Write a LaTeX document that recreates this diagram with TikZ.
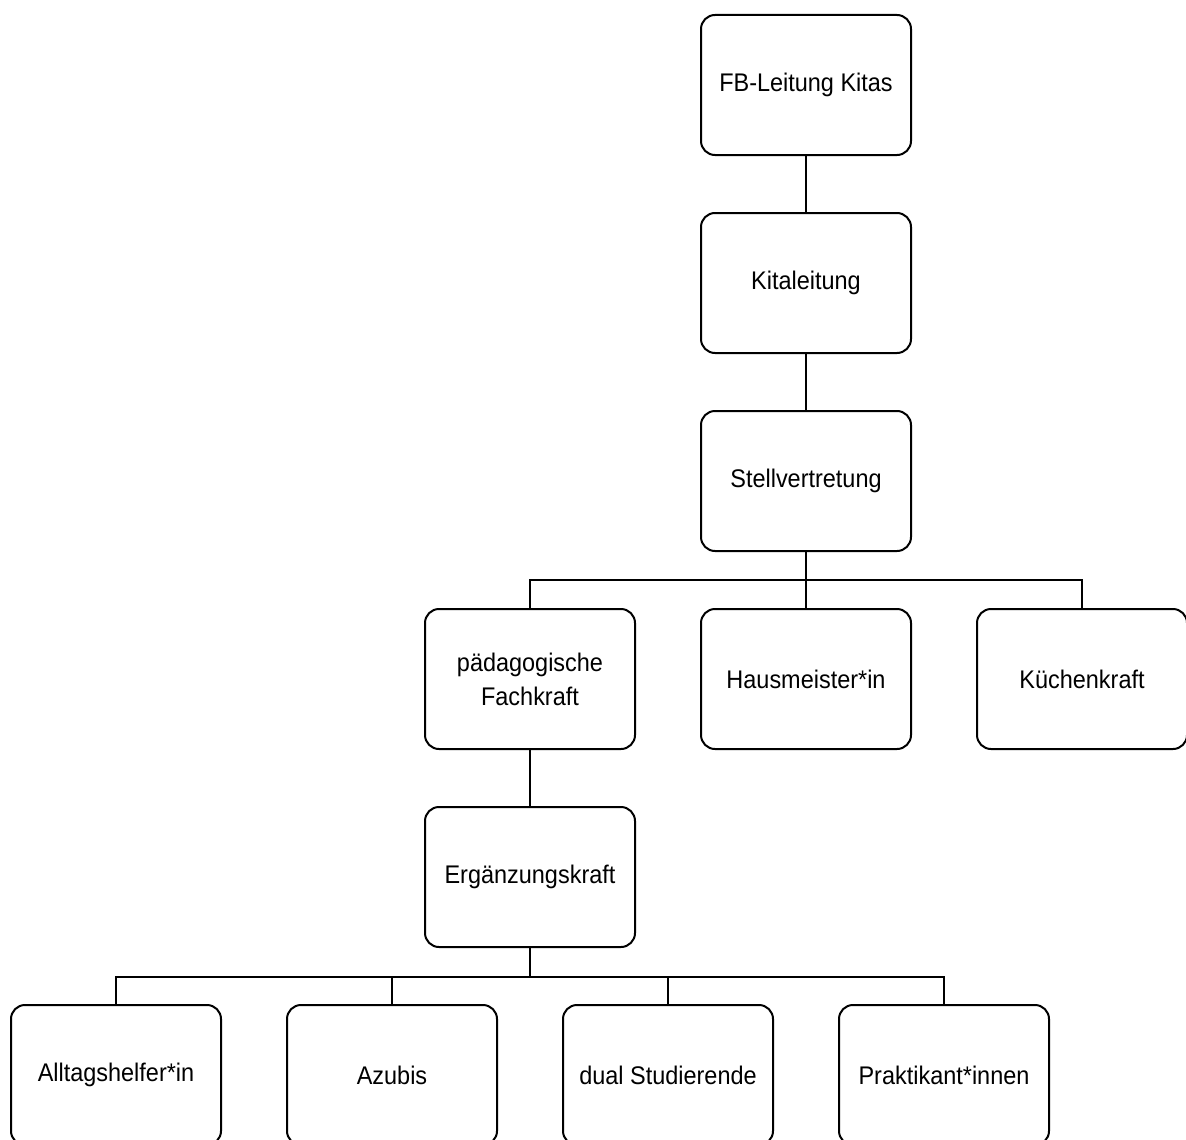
\documentclass[tikz,border=0pt]{standalone}
\usepackage{fontspec}
\setmainfont[FakeStretch=0.92]{Liberation Sans}
\begin{document}
\begin{tikzpicture}[x=1pt,y=-1pt,
  orgbox/.style={draw=black,line width=2pt,rounded corners=14pt,minimum width=210pt,minimum height=140pt,inner sep=0pt,align=center,font=\fontsize{25.5}{34}\selectfont},
  conn/.style={draw=black,line width=2pt}]
\useasboundingbox (0,0) rectangle (1186,1140);
\clip (0,0) rectangle (1186,1140);
\fill[white] (0,0) rectangle (1186,1140);
\node[orgbox] (fb) at (806,85) {FB-Leitung Kitas};
\node[orgbox] (kl) at (806,283) {Kitaleitung};
\node[orgbox] (st) at (806,481) {Stellvertretung};
\node[orgbox] (pf) at (530,679) {pädagogische\\Fachkraft};
\node[orgbox] (hm) at (806,679) {Hausmeister*in};
\node[orgbox] (kk) at (1082,679) {Küchenkraft};
\node[orgbox] (ek) at (530,877) {Ergänzungskraft};
\node[orgbox] (ah) at (116,1075) {Alltagshelfer*in};
\node[orgbox] (az) at (392,1075) {Azubis};
\node[orgbox] (ds) at (668,1075) {dual Studierende};
\node[orgbox] (pk) at (944,1075) {Praktikant*innen};
\coordinate (bus1) at (806,580);
\coordinate (bus2) at (530,977);
\draw[conn] (fb.south) -- (kl.north);
\draw[conn] (kl.south) -- (st.north);
\draw[conn] (st.south) -- (bus1) -| (pf.north);
\draw[conn] (bus1) -| (kk.north);
\draw[conn] (bus1) -- (hm.north);
\draw[conn] (pf.south) -- (ek.north);
\draw[conn] (ek.south) -- (bus2) -| (ah.north);
\draw[conn] (bus2) -| (az.north);
\draw[conn] (bus2) -| (ds.north);
\draw[conn] (bus2) -| (pk.north);
\end{tikzpicture}
\end{document}
